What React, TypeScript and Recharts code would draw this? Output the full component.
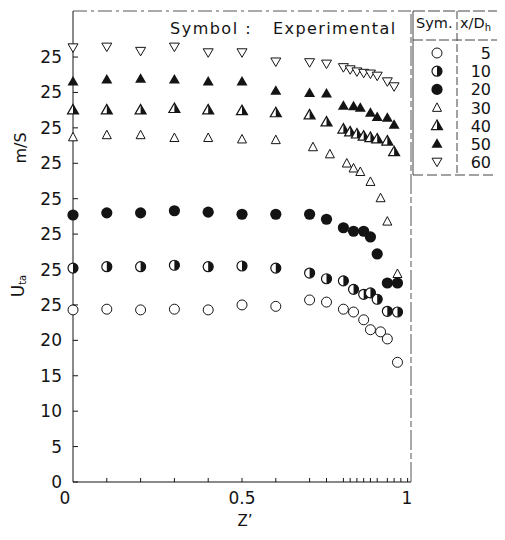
import React from 'react';
import { ScatterChart, Scatter, XAxis, YAxis, ReferenceLine } from 'recharts';

// z' positions and velocities, one pair of arrays per x/Dh
const zFront = [0, 0.1, 0.2, 0.3, 0.4, 0.5, 0.6, 0.7, 0.75];

const z5 = [...zFront, 0.8, 0.83, 0.86, 0.88, 0.91, 0.93, 0.96];
const u5 = [24.3, 24.4, 24.3, 24.4, 24.3, 25.0, 24.8, 25.7, 25.4, 24.4, 24.0, 22.9, 21.5, 21.2, 20.2, 16.9];

const z10 = [...zFront, 0.8, 0.83, 0.86, 0.88, 0.9, 0.93, 0.96];
const u10 = [30.2, 30.4, 30.4, 30.6, 30.4, 30.5, 30.2, 29.5, 28.7, 28.4, 27.2, 26.5, 26.7, 25.8, 24.1, 24.0];

const z20 = [...zFront, 0.8, 0.83, 0.86, 0.88, 0.9, 0.93, 0.96];
const u20 = [37.7, 38.0, 38.0, 38.3, 38.1, 37.8, 37.8, 37.8, 37.1, 35.9, 35.4, 35.4, 34.6, 32.2, 28.1, 28.1];

const z30 = [0, 0.1, 0.2, 0.3, 0.4, 0.5, 0.6, 0.71, 0.76, 0.81, 0.83, 0.85, 0.88, 0.91, 0.93, 0.96];
const u30 = [48.7, 49.0, 49.0, 48.6, 48.6, 48.4, 48.3, 47.3, 46.3, 45.0, 44.3, 43.8, 42.4, 40.1, 36.8, 29.4];

const z40 = [...zFront, 0.8, 0.82, 0.84, 0.86, 0.88, 0.9, 0.93, 0.95];
const u40 = [52.5, 52.5, 52.5, 52.7, 52.5, 52.4, 52.1, 51.8, 50.8, 49.8, 49.4, 49.1, 48.8, 48.6, 48.4, 48.1, 46.6];

const z50 = [...zFront, 0.8, 0.83, 0.85, 0.88, 0.9, 0.93, 0.95];
const u50 = [56.5, 56.8, 56.9, 56.8, 56.5, 56.5, 55.2, 54.9, 54.8, 53.1, 53.0, 52.8, 52.1, 51.5, 51.4, 50.4];

const z60 = [...zFront, 0.8, 0.82, 0.84, 0.86, 0.88, 0.9, 0.93, 0.95];
const u60 = [61.3, 61.4, 60.8, 61.4, 60.6, 60.6, 59.3, 59.2, 59.0, 58.5, 58.2, 57.9, 57.7, 57.6, 57.3, 56.5, 55.8];

const legendLabels = ['5', '10', '20', '30', '40', '50', '60'];
const markerKinds = ['open', 'half', 'filled', 'triOpen', 'triHalf', 'triFilled', 'triDown'];

const xTicks = [0, 0.1, 0.2, 0.3, 0.4, 0.5, 0.6, 0.7, 0.75, 0.8, 0.82, 0.84, 0.86, 0.88, 0.9, 0.93, 0.95, 0.97, 0.99, 1];
const xLabelTicks = [0, 0.5, 1];
const yTicks = [0, 5, 10, 15, 20, 25, 30, 35, 40, 45, 50, 55, 60];

const INK = '#141414';
const FONT = '"DejaVu Sans", sans-serif';

const zip = (z: number[], u: number[]) => z.map((v, i) => ({ z: v, u: u[i] }));
const seriesData = [zip(z5, u5), zip(z10, u10), zip(z20, u20), zip(z30, u30), zip(z40, u40), zip(z50, u50), zip(z60, u60)];

function Marker({ kind, cx, cy }: { kind: string; cx: number; cy: number }) {
  const r = 5;
  const s = 11;
  const h = 9.5;
  if (kind === 'open') return <circle cx={cx} cy={cy} r={r} fill="#fff" stroke={INK} strokeWidth={1} />;
  if (kind === 'filled') return <circle cx={cx} cy={cy} r={r + 0.6} fill={INK} />;
  if (kind === 'half')
    return (
      <g>
        <circle cx={cx} cy={cy} r={r} fill="#fff" stroke={INK} strokeWidth={1.2} />
        <path d={`M${cx},${cy - r} A${r},${r} 0 0 1 ${cx},${cy + r} Z`} fill={INK} />
      </g>
    );
  const top = cy - h / 2 - 1;
  const bot = cy + h / 2 - 1;
  if (kind === 'triDown') {
    const w = 10;
    return (
      <polygon
        points={`${cx - w / 2},${cy - 4} ${cx + w / 2},${cy - 4} ${cx},${cy + 4.5}`}
        fill="#fff"
        stroke={INK}
        strokeWidth={1}
      />
    );
  }
  if (kind === 'triOpen')
    return (
      <polygon
        points={`${cx},${top + 1} ${cx - 4.5},${bot} ${cx + 4.5},${bot}`}
        fill="#fff"
        stroke={INK}
        strokeWidth={1}
      />
    );
  if (kind === 'triFilled')
    return <polygon points={`${cx},${top} ${cx - s / 2},${bot} ${cx + s / 2},${bot}`} fill={INK} />;
  // half filled triangle, right side black
  return (
    <g>
      <polygon points={`${cx},${top} ${cx - s / 2},${bot} ${cx + s / 2},${bot}`} fill="#fff" stroke={INK} strokeWidth={1.2} />
      <polygon points={`${cx},${top} ${cx + s / 2},${bot} ${cx},${bot}`} fill={INK} />
    </g>
  );
}

const YTick = (props: any) => {
  const { x, y, payload } = props;
  const v = payload.value;
  return (
    <g>
      <line x1={x} x2={x + 5} y1={y} y2={y} stroke={INK} />
      <text x={x - 11} y={y + 6} textAnchor="end" fontFamily={FONT} fontSize={17} fill={INK}>
        {v > 25 ? '25' : v}
      </text>
    </g>
  );
};

const XTick = (props: any) => {
  const { x, y, payload } = props;
  const v = payload.value;
  const showLabel = xLabelTicks.includes(v);
  return (
    <g>
      {v > 0 && v < 1 && <line x1={x} x2={x} y1={y} y2={y - 4} stroke={INK} />}
      {showLabel && (
        <text x={x + (v === 0 ? -8 : v === 1 ? -4 : 0)} y={y + 22} textAnchor="middle" fontFamily={FONT} fontSize={17} fill={INK}>
          {v}
        </text>
      )}
    </g>
  );
};

export default function App() {
  const rowY = (i: number) => 45 + i * 18.2;
  return (
    <div style={{ position: 'relative', width: 497, height: 532 }}>
      <ScatterChart width={497} height={532} margin={{ top: 3, right: 94, bottom: 28, left: 15 }}>
        <XAxis
          type="number"
          dataKey="z"
          domain={[0, 1]}
          ticks={xTicks}
          interval={0}
          height={30}
          tickSize={0}
          tickMargin={0}
          tick={<XTick />}
          axisLine={{ stroke: INK }}
        />
        <YAxis
          type="number"
          dataKey="u"
          domain={[0, 66.5]}
          ticks={yTicks}
          interval={0}
          width={50}
          tickSize={0}
          tickMargin={0}
          tick={<YTick />}
          axisLine={{ stroke: INK }}
        />
        <ReferenceLine y={66.5} stroke="#555" strokeDasharray="14 4 3 4" />
        <ReferenceLine x={1} stroke="#555" strokeDasharray="20 3 6 3" />
        {seriesData.map((d, i) => (
          <Scatter
            key={legendLabels[i]}
            name={legendLabels[i]}
            data={d}
            isAnimationActive={false}
            shape={(p: any) => <Marker kind={markerKinds[i]} cx={p.cx} cy={p.cy} />}
          />
        ))}
      </ScatterChart>
      <svg width={497} height={532} style={{ position: 'absolute', left: 0, top: 0, pointerEvents: 'none' }}>
        <g fontFamily={FONT} fill={INK}>
          <text x={162} y={26} fontSize={16} letterSpacing={1.5}>Symbol :</text>
          <text x={265} y={26} fontSize={16} letterSpacing={1.4}>Experimental</text>
          <text x={237} y={518} fontSize={15} textAnchor="middle">Z’</text>
          <text transform="translate(12,140) rotate(-90)" fontSize={16} textAnchor="middle" dominantBaseline="central">
            m/S
          </text>
          <text transform="translate(10,278) rotate(-90)" fontSize={17} textAnchor="middle" dominantBaseline="central">
            U<tspan fontSize={10} dy={4}>ta</tspan>
          </text>
        </g>
        {/* legend table */}
        <g stroke="#444" fill="none">
          <line x1={405} x2={405} y1={3} y2={167} />
          <line x1={405} x2={495} y1={3} y2={3} strokeDasharray="12 3" />
          <line x1={405} x2={495} y1={167} y2={167} strokeDasharray="10 4" />
          <line x1={405} x2={495} y1={32} y2={32} strokeDasharray="10 3" />
          <line x1={449} x2={449} y1={3} y2={167} strokeDasharray="8 3" />
        </g>
        <g fontFamily={FONT} fill={INK} fontSize={14.5}>
          <text x={408} y={20}>Sym.</text>
          <text x={452} y={20}>
            x/D<tspan fontSize={10} dy={3}>h</tspan>
          </text>
          {legendLabels.map((lab, i) => (
            <g key={lab}>
              <Marker kind={markerKinds[i]} cx={429} cy={rowY(i)} />
              <text x={483} y={rowY(i) + 6} textAnchor="end" fontSize={16}>
                {lab}
              </text>
            </g>
          ))}
        </g>
      </svg>
    </div>
  );
}
